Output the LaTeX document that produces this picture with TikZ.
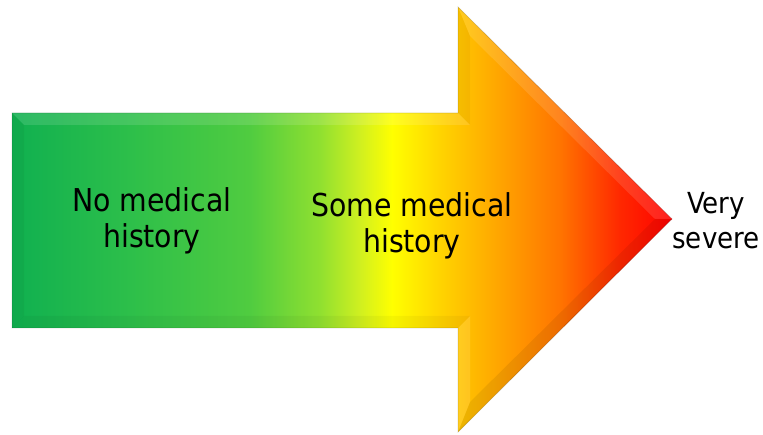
\documentclass[tikz,border=0pt]{standalone}
\usepackage{fontspec}
\setmainfont{DejaVu Sans Condensed}
\definecolor{g0}{HTML}{10B050}
\definecolor{g1}{HTML}{2DBF4A}
\definecolor{g2}{HTML}{50CC40}
\definecolor{g3}{HTML}{90E030}
\definecolor{g4}{HTML}{D0F020}
\definecolor{g5}{HTML}{FFFF00}
\definecolor{g6}{HTML}{FFD400}
\definecolor{g7}{HTML}{FFB400}
\definecolor{g8}{HTML}{FF7400}
\definecolor{g9}{HTML}{FF2800}
\definecolor{g10}{HTML}{FF0000}
\pgfdeclarehorizontalshading{arrowgrad}{100bp}{color(0bp)=(g0); color(25bp)=(g0); color(33.94bp)=(g1); color(43.03bp)=(g2); color(48.33bp)=(g3); color(51.36bp)=(g4); color(53.79bp)=(g5); color(57.42bp)=(g6); color(60.45bp)=(g7); color(66.52bp)=(g8); color(71.06bp)=(g9); color(75bp)=(g10); color(100bp)=(g10)}
\tikzset{
  label text/.style={align=center, text=black, inner sep=0pt},
  big text/.style={label text, font=\fontsize{31.5}{36}\selectfont},
  small text/.style={label text, font=\fontsize{29}{35}\selectfont},
  facet light/.style={fill=white, fill opacity=0.12, draw=none},
  facet dark/.style={fill=black, fill opacity=0.04, draw=none},
}
\begin{document}
\begin{tikzpicture}[x=1pt,y=-1pt]
\useasboundingbox (0,0) rectangle (763,435);
% outer corners
\coordinate (A) at (12,113);
\coordinate (B) at (458,113);
\coordinate (C) at (458,7);
\coordinate (D) at (672,219);
\coordinate (E) at (458,432);
\coordinate (F) at (458,328);
\coordinate (G) at (12,328);
% inner corners (bevel)
\coordinate (A2) at (24,125);
\coordinate (B2) at (470,125);
\coordinate (C2) at (470,36);
\coordinate (D2) at (655,219);
\coordinate (E2) at (470,402);
\coordinate (F2) at (470,316);
\coordinate (G2) at (24,316);
\shade[shading=arrowgrad] (A) -- (B) -- (C) -- (D) -- (E) -- (F) -- (G) -- cycle;
% bevel facets
\path[facet light] (A) -- (B) -- (B2) -- (A2) -- cycle;
\path[facet dark] (B) -- (C) -- (C2) -- (B2) -- cycle;
\path[facet light] (C) -- (D) -- (D2) -- (C2) -- cycle;
\path[fill=black, fill opacity=0.07] (D) -- (E) -- (E2) -- (D2) -- cycle;
\path[facet light] (E) -- (F) -- (F2) -- (E2) -- cycle;
\path[facet dark] (F) -- (G) -- (G2) -- (F2) -- cycle;
\path[facet dark] (G) -- (A) -- (A2) -- (G2) -- cycle;
\draw[black, opacity=0.15, line width=0.8pt] (A) -- (B) -- (C) -- (D) -- (E) -- (F) -- (G) -- cycle;
% texts
\node[big text] (t1) at (152,221) {No medical\\history};
\node[big text] (t2) at (412,226) {Some medical\\history};
\node[small text] (t3) at (716,221) {Very\\severe};
\end{tikzpicture}
\end{document}
